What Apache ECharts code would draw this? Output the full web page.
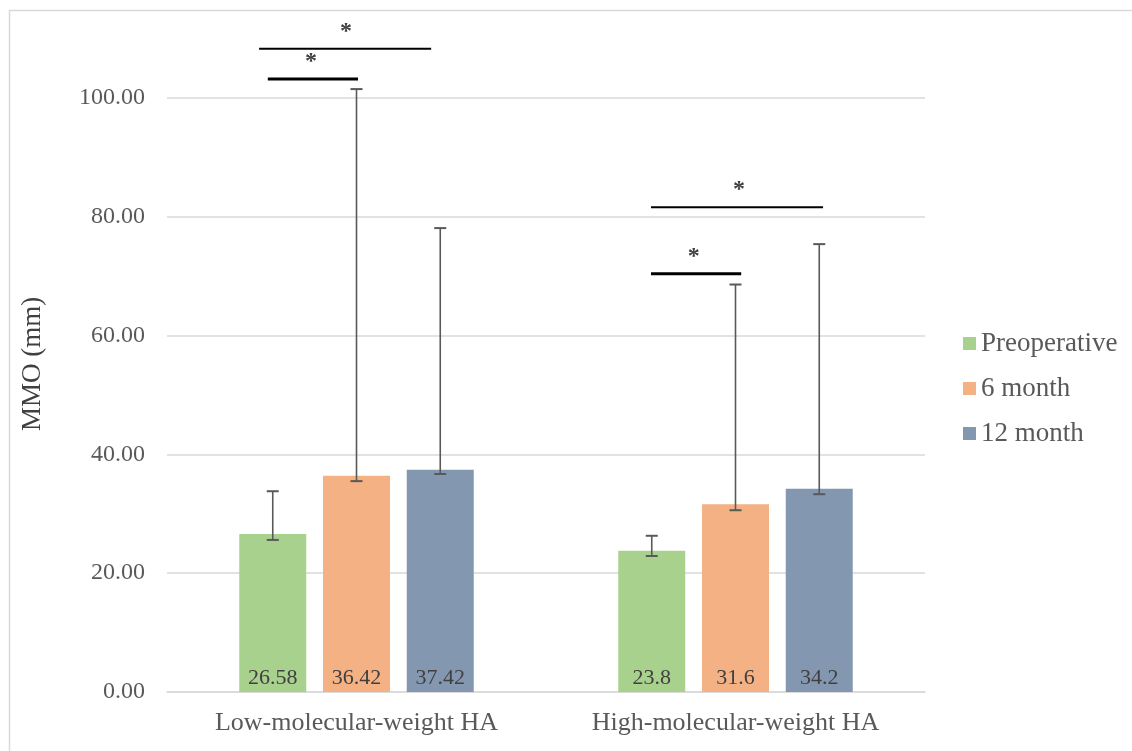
<!DOCTYPE html>
<html><head><meta charset="utf-8">
<script src="https://cdn.jsdelivr.net/npm/echarts@6/dist/echarts.min.js"></script>
<style>html,body{margin:0;padding:0;background:#fff}#c{width:1132px;height:751px}</style>
</head><body><div id="c"></div>
<script>
var categories = ['Low-molecular-weight HA', 'High-molecular-weight HA'];
var seriesNames = ['Preoperative', '6 month', '12 month'];
var preop = [26.58, 23.8];
var month6 = [36.42, 31.6];
var month12 = [37.42, 34.2];
// error bar ends [low, high] per category
var preopErr = [[25.6, 33.8], [22.9, 26.3]];
var month6Err = [[35.5, 101.5], [30.6, 68.6]];
var month12Err = [[36.7, 78.1], [33.3, 75.4]];
var yTicks = [0, 20, 40, 60, 80, 100];
var yAxisTitle = 'MMO (mm)';
// significance brackets: [xStart, xEnd, yLine, starX, label] on a 0..2 category-span scale
var sigBrackets = [
  [0.243, 0.697, 108.3, 0.472, '*'],
  [0.266, 0.504, 103.2, 0.380, '*'],
  [1.277, 1.731, 81.6, 1.509, '*'],
  [1.277, 1.515, 70.4, 1.390, '*']
];
var sigWidths = [2, 3, 2, 3];

var colors = ['#a9d18e', '#f4b183', '#8497b0'];
var font = '"Liberation Serif", "Times New Roman", serif';
var barWidth = 67, barGap = 0.25;
var values = [preop, month6, month12];
var errs = [preopErr, month6Err, month12Err];

var chart = echarts.init(document.getElementById('c'));

function errSeries(si) {
  var data = categories.map(function (c, i) { return [i, errs[si][i][0], errs[si][i][1]]; });
  return {
    type: 'custom', name: seriesNames[si] + ' err', xAxisIndex: 0, yAxisIndex: 0, clip: false, z: 5,
    silent: true,
    renderItem: function (params, api) {
      var off = (si - 1) * barWidth * (1 + barGap);
      var lo = api.coord([api.value(0), api.value(1)]);
      var hi = api.coord([api.value(0), api.value(2)]);
      var x = lo[0] + off;
      var st = { stroke: '#595959', lineWidth: 1.6 };
      return { type: 'group', children: [
        { type: 'line', shape: { x1: x, y1: lo[1], x2: x, y2: hi[1] }, style: st },
        { type: 'line', shape: { x1: x - 6, y1: lo[1], x2: x + 6, y2: lo[1] }, style: { stroke: '#595959', lineWidth: 2 } },
        { type: 'line', shape: { x1: x - 6, y1: hi[1], x2: x + 6, y2: hi[1] }, style: { stroke: '#595959', lineWidth: 2 } }
      ]};
    },
    encode: { x: 0, y: [1, 2] },
    data: data
  };
}

var series = seriesNames.map(function (n, si) {
  return {
    name: n, type: 'bar', data: values[si], barWidth: barWidth, barGap: (barGap * 100) + '%',
    itemStyle: { color: colors[si] },
    label: { show: true, position: 'insideBottom', distance: 3, color: '#404040', fontFamily: font, fontSize: 22 }
  };
});
series = series.concat([errSeries(0), errSeries(1), errSeries(2)]);
series.push({
  type: 'custom', xAxisIndex: 1, yAxisIndex: 0, clip: false, silent: true, z: 6,
  renderItem: function (params, api) {
    var a = api.coord([api.value(0), api.value(2)]);
    var b = api.coord([api.value(1), api.value(2)]);
    var s = api.coord([api.value(3), api.value(2)]);
    return { type: 'group', children: [
      { type: 'line', shape: { x1: a[0], y1: a[1], x2: b[0], y2: b[1] }, style: { stroke: '#000', lineWidth: sigWidths[params.dataIndex] } },
      { type: 'text', style: { x: s[0], y: a[1] - 5, text: sigBrackets[params.dataIndex][4], fill: '#404040', font: 'bold 24px ' + font, align: 'center', verticalAlign: 'bottom' } }
    ]};
  },
  data: sigBrackets.map(function (b) { return [b[0], b[1], b[2], b[3]]; })
});

chart.setOption({
  animation: false,
  backgroundColor: '#fff',
  graphic: [
    { type: 'rect', left: 7, top: 8, shape: { width: 1124, height: 745 }, style: { fill: 'none', stroke: '#d9d9d9', lineWidth: 1.5 }, silent: true },
    { type: 'text', x: 33, y: 364, rotation: Math.PI / 2, silent: true,
      style: { text: yAxisTitle, font: '27px ' + font, fill: '#404040', align: 'center', verticalAlign: 'middle' } }
  ],
  grid: { left: 167, right: 207, top: 98, bottom: 59 },
  legend: {
    orient: 'vertical', left: 958, top: 325, itemWidth: 13, itemHeight: 13, itemGap: 18,
    data: seriesNames, icon: 'rect',
    textStyle: { fontFamily: font, fontSize: 27, color: '#595959' }
  },
  xAxis: [{
    type: 'category', data: categories,
    axisLine: { lineStyle: { color: '#d9d9d9', width: 1.5 } }, axisTick: { show: false },
    axisLabel: { fontFamily: font, fontSize: 26, color: '#595959', margin: 18 }
  }, {
    type: 'value', min: 0, max: 2, show: false
  }],
  yAxis: {
    type: 'value', min: yTicks[0], max: yTicks[yTicks.length - 1], interval: yTicks[1] - yTicks[0],
    axisLine: { show: false }, axisTick: { show: false },
    splitLine: { lineStyle: { color: '#d9d9d9', width: 1.5 } },
    axisLabel: { fontFamily: font, fontSize: 24, color: '#595959', margin: 22, formatter: function (v) { return v.toFixed(2); } }
  },
  series: series
});
</script></body></html>
